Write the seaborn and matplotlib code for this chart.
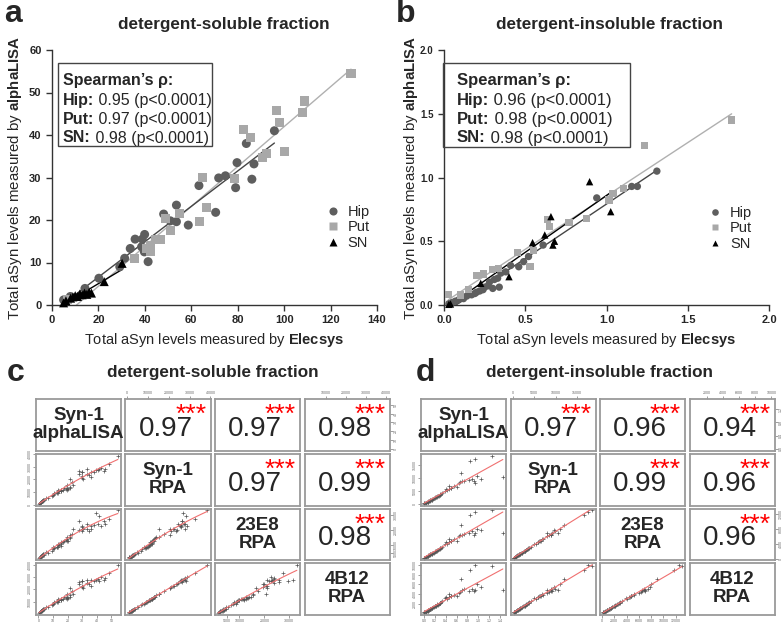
import numpy as np
import pandas as pd
import seaborn as sns
import matplotlib
matplotlib.use("Agg")
import matplotlib.pyplot as plt
from matplotlib.patches import Rectangle
from matplotlib.ticker import FormatStrFormatter

# ---------------- panel a: detergent-soluble, Elecsys vs alphaLISA ----------------
hip_elec_sol = [95.8, 83.7, 87.0, 86.1, 79.7, 79.1, 74.7, 71.8, 63.3, 70.5, 58.7, 53.6, 53.6, 51.0,
                48.1, 39.9, 38.9, 35.8, 38.6, 39.8, 41.4, 33.7, 31.3, 29.2, 20.2, 14.2, 7.9, 5.0]
hip_alpha_sol = [41.0, 38.0, 33.2, 29.6, 33.5, 27.6, 30.4, 29.9, 28.1, 21.8, 18.8, 23.5, 19.6, 19.8,
                 21.4, 16.6, 15.5, 15.5, 13.7, 12.5, 10.2, 13.3, 11.0, 9.0, 6.3, 3.9, 2.0, 1.2]
put_elec_sol = [128.8, 108.7, 107.8, 96.6, 98.1, 100.2, 92.6, 90.6, 82.3, 85.4, 78.8, 64.8,
                66.5, 63.6, 55.0, 51.0, 48.8, 46.9, 44.5, 42.6, 42.6, 40.9, 35.6, 6.6]
put_alpha_sol = [54.4, 48.0, 45.2, 45.8, 43.0, 36.1, 35.7, 34.7, 41.2, 39.5, 29.8, 30.0,
                 23.0, 19.7, 21.6, 17.6, 20.4, 15.5, 15.5, 14.1, 12.5, 13.3, 11.0, 1.4]
sn_elec_sol = [5.0, 6.0, 8.0, 9.0, 10.0, 11.0, 12.0, 13.0, 14.0, 15.0, 16.0, 17.0, 22.5, 30.2]
sn_alpha_sol = [0.5, 1.0, 1.6, 1.9, 2.2, 2.0, 2.6, 2.4, 2.8, 2.5, 3.0, 2.8, 5.5, 9.8]

# ---------------- panel b: detergent-insoluble ----------------
hip_elec_ins = [1.31, 1.19, 1.155, 0.94, 0.61, 0.52, 0.41, 0.46, 0.49, 0.38, 0.35, 0.34, 0.33, 0.31, 0.30,
                0.28, 0.27, 0.25, 0.24, 0.22, 0.20, 0.19, 0.17, 0.14, 0.12, 0.09, 0.07, 0.05, 0.03]
hip_alpha_ins = [1.05, 0.93, 0.93, 0.84, 0.47, 0.38, 0.31, 0.30, 0.34, 0.26, 0.25, 0.14, 0.21, 0.20, 0.13,
                 0.18, 0.15, 0.14, 0.12, 0.11, 0.10, 0.09, 0.08, 0.07, 0.05, 0.04, 0.03, 0.02, 0.01]
put_elec_ins = [1.77, 1.235, 1.106, 1.04, 1.015, 0.878, 0.769, 0.638, 0.65, 0.55,
                0.529, 0.451, 0.334, 0.30, 0.244, 0.20, 0.15, 0.103, 0.027]
put_alpha_ins = [1.45, 1.25, 0.915, 0.876, 0.824, 0.68, 0.646, 0.672, 0.614, 0.426,
                 0.30, 0.41, 0.288, 0.28, 0.243, 0.23, 0.12, 0.078, 0.084]
sn_elec_ins = [0.896, 1.026, 0.658, 0.62, 0.68, 0.67, 0.545, 0.40, 0.226, 0.04, 0.03]
sn_alpha_ins = [0.967, 0.732, 0.693, 0.549, 0.50, 0.47, 0.489, 0.222, 0.17, 0.008, 0.005]

# ---------------- panels c/d: RPA assays (same samples, order Hip, Put, SN) ----------------
syn1_sol = [27500, 26000, 28000, 21000, 24500, 26500, 20500, 25500, 24000, 13500, 12500, 15500, 13000, 12000,
            14000, 11500, 12000, 10500, 9500, 10000, 7500, 11000, 9000, 7000, 5500, 3500, 2200, 1500,
            38500, 32500, 26500, 28000, 29000, 22000, 26000, 23500, 28500, 27000, 26000, 22500,
            18000, 15500, 20500, 13000, 12500, 12000, 11000, 10500, 9000, 11500, 8500, 1300,
            900, 1300, 1800, 2300, 2600, 2000, 3200, 2700, 3500, 2900, 3800, 3100, 5000, 8000]
e23_sol = [24000, 23500, 21000, 19500, 24000, 26000, 21000, 22500, 20000, 14500, 13500, 20500, 14000, 12500,
           15500, 12000, 11500, 9500, 8500, 9000, 7500, 10000, 8000, 6500, 4800, 3600, 2300, 1700,
           33000, 27500, 26000, 24000, 22500, 21000, 23000, 19500, 29500, 31500, 22000, 20500,
           17500, 15500, 16500, 12500, 13000, 11000, 12000, 10000, 9000, 10500, 8000, 2200,
           1500, 1900, 2400, 2900, 3300, 2700, 3800, 3200, 4100, 3400, 4500, 3700, 5500, 8500]
b12_sol = [28500, 27000, 28000, 22000, 25500, 26000, 21500, 26500, 24500, 14000, 13000, 16500, 13500, 12500,
           15000, 12000, 12500, 11000, 10000, 10500, 8000, 11500, 9500, 7500, 5800, 3800, 2400, 1600,
           40000, 33000, 28000, 29500, 30000, 23000, 27500, 24500, 27000, 27500, 26500, 23000,
           18500, 16000, 21000, 13500, 13000, 12500, 11500, 11000, 9500, 12000, 9000, 1400,
           1000, 1400, 1900, 2400, 2700, 2100, 3300, 2800, 3600, 3000, 3900, 3200, 5200, 8300]

syn1_ins = [9500, 8000, 17500, 16500, 6800, 5000, 3800, 3600, 4200, 3000, 3200, 1800, 2600, 2500, 1700,
            2200, 1900, 1800, 1500, 1400, 1300, 1200, 1000, 900, 700, 600, 500, 400, 300,
            10500, 18500, 9000, 9800, 9200, 12000, 8000, 8500, 6500, 5500,
            3800, 6000, 3500, 3300, 2900, 2800, 1500, 900, 1100,
            11000, 9000, 8800, 7000, 6200, 5800, 6300, 2800, 2100, 300, 250]
e23_ins = [7800, 6900, 12500, 11800, 5200, 3900, 3000, 2800, 3300, 2300, 2500, 1400, 2000, 1900, 1300,
           1700, 1500, 1400, 1200, 1100, 1000, 900, 800, 700, 550, 450, 400, 300, 250,
           7000, 13000, 6500, 7500, 7000, 9000, 6000, 6300, 4800, 4100,
           2900, 4600, 2700, 2600, 2200, 2100, 1200, 700, 900,
           8000, 6800, 6500, 5200, 4700, 4400, 4800, 2100, 1600, 250, 200]
b12_ins = [5500, 4800, 10000, 9000, 4000, 3100, 2400, 2200, 2600, 1800, 1900, 1100, 1600, 1500, 1000,
           1400, 1200, 1100, 950, 900, 800, 700, 650, 550, 450, 380, 320, 250, 200,
           4800, 9800, 4600, 5000, 4700, 7000, 4300, 4500, 3500, 3000,
           2200, 3300, 2100, 2000, 1700, 1600, 950, 550, 700,
           6000, 5000, 4800, 3800, 3500, 3300, 3600, 1600, 1250, 200, 180]

assay_names = ["Syn-1\nalphaLISA", "Syn-1\nRPA", "23E8\nRPA", "4B12\nRPA"]
corr_sol = ["0.97", "0.97", "0.98", "0.97", "0.99", "0.98"]
corr_ins = ["0.97", "0.96", "0.94", "0.99", "0.96", "0.96"]

ticks_sol = {"alpha": [0, 10, 20, 30, 40, 50], "syn1": [0, 10000, 20000, 30000, 40000],
             "e23": [5000, 10000, 20000, 30000], "b12": [10000, 20000, 30000, 40000]}
ticks_ins = {"alpha": [0.0, 0.2, 0.4, 0.6, 0.8, 1.0, 1.2, 1.4], "syn1": [0, 5000, 10000, 15000],
             "e23": [0, 2000, 4000, 6000, 8000, 10000, 12000], "b12": [2000, 4000, 6000, 8000, 10000]}

sns.set_style("ticks")
plt.rcParams['font.family'] = ['Liberation Sans', 'DejaVu Sans']
plt.rcParams['mathtext.fontset'] = 'custom'
plt.rcParams['mathtext.rm'] = 'Liberation Sans'
plt.rcParams['mathtext.bf'] = 'Liberation Sans:bold'

W, H = 784, 622
fig = plt.figure(figsize=(W / 100, H / 100), dpi=100)


def add_ax(x0, y0, x1, y1):
    return fig.add_axes([x0 / W, 1 - y1 / H, (x1 - x0) / W, (y1 - y0) / H])


def fig_text(x, y, s, **kw):
    return fig.text(x / W, 1 - y / H, s, **kw)


markers = {'Hip': 'o', 'Put': 's', 'SN': '^'}
palette = {'Hip': '#5e5e5e', 'Put': '#a8a8a8', 'SN': '#000000'}
line_cols = {'Hip': '#454545', 'Put': '#b0b0b0', 'SN': '#000000'}


def long_df(h_x, h_y, p_x, p_y, s_x, s_y):
    return pd.DataFrame({
        'elecsys': h_x + p_x + s_x,
        'alpha': h_y + p_y + s_y,
        'region': ['Hip'] * len(h_x) + ['Put'] * len(p_x) + ['SN'] * len(s_x)})


def scatter_panel(ax, df, size, xlim, xticks, ylim, yticks, leg_anchor, ypad):
    for reg in ['Put', 'Hip', 'SN']:
        sub = df[df.region == reg]
        sns.regplot(data=sub, x='elecsys', y='alpha', scatter=False, ci=None, truncate=True,
                    line_kws={'color': line_cols[reg], 'lw': 1.0}, ax=ax)
    sns.scatterplot(data=df, x='elecsys', y='alpha', hue='region', style='region',
                    markers=markers, palette=palette, s=size, edgecolor='none',
                    clip_on=False, zorder=3, ax=ax)
    ax.set_xlim(xlim)
    ax.set_ylim(ylim)
    ax.set_xticks(xticks)
    ax.set_yticks(yticks)
    sns.despine(ax=ax)
    for sp in ax.spines.values():
        sp.set_color('#333333')
        sp.set_linewidth(1.0)
    ax.tick_params(labelsize=8, width=1.0, length=4, color='#333333')
    ax.set_xlabel(r"Total aSyn levels measured by $\mathbf{Elecsys}$", fontsize=10.5, labelpad=4)
    ax.set_ylabel(r"Total aSyn levels measured by $\mathbf{alphaLISA}$", fontsize=10.8, labelpad=ypad)
    sns.move_legend(ax, 'center left', bbox_to_anchor=leg_anchor, title=None, frameon=False,
                    fontsize=10.5, handletextpad=0.0, labelspacing=0.1, borderpad=0,
                    borderaxespad=0, markerscale=0.9)


def bold_ticks(ax):
    for lbl in ax.get_xticklabels() + ax.get_yticklabels():
        lbl.set_fontweight('bold')


def stat_box(ax, x0, y0, x1, y1, tx, lines, size=11.5):
    fig.add_artist(Rectangle((x0 / W, 1 - y1 / H), (x1 - x0) / W, (y1 - y0) / H,
                             transform=fig.transFigure, fill=False, ec='#444444', lw=1.0))
    ys = [y0 + 17, y0 + 37, y0 + 56.5, y0 + 75]
    fig_text(tx, ys[0], "Spearman’s ρ:", fontweight='bold', fontsize=size, va='center')
    for (bold, rest), yy in zip(lines, ys[1:]):
        t = fig_text(tx, yy, bold, fontweight='bold', fontsize=size, va='center')
        ax.annotate(rest, xy=(1, 0), xycoords=t, fontsize=size, va='bottom', ha='left',
                    annotation_clip=False)


# ---------------- panel a ----------------
ax_a = add_ax(52, 50, 377, 305)
df_a = long_df(hip_elec_sol, hip_alpha_sol, put_elec_sol, put_alpha_sol, sn_elec_sol, sn_alpha_sol)
scatter_panel(ax_a, df_a, 42, (0, 140), range(0, 141, 20), (0, 60), range(0, 61, 10), (0.82, 0.305), 4)
bold_ticks(ax_a)

# ---------------- panel b ----------------
ax_b = add_ax(444, 50, 769, 305)
df_b = long_df(hip_elec_ins, hip_alpha_ins, put_elec_ins, put_alpha_ins, sn_elec_ins, sn_alpha_ins)
scatter_panel(ax_b, df_b, 28, (0, 2.0), [0.0, 0.5, 1.0, 1.5, 2.0], (0, 2.0), [0.0, 0.5, 1.0, 1.5, 2.0],
              (0.79, 0.30), 0)
ax_b.xaxis.set_major_formatter(FormatStrFormatter('%.1f'))
ax_b.yaxis.set_major_formatter(FormatStrFormatter('%.1f'))
ax_b.tick_params(axis='y', labelsize=7)
bold_ticks(ax_b)

stat_box(ax_a, 58, 63, 212, 146, 63, [("Hip:", " 0.95 (p<0.0001)"), ("Put:", " 0.97 (p<0.0001)"),
                                      ("SN:", " 0.98 (p<0.0001)")])
stat_box(ax_b, 443, 63, 630, 147, 457, [("Hip:", " 0.96 (p<0.0001)"), ("Put:", " 0.98 (p<0.0001)"),
                                        ("SN:", " 0.98 (p<0.0001)")], size=12)

fig_text(4, 14, "a", fontsize=23, fontweight='bold', va='center')
fig_text(396, 14, "b", fontsize=23, fontweight='bold', va='center')
fig_text(224, 25, "detergent-soluble fraction", fontsize=12.3, fontweight='bold', ha='center', va='center')
fig_text(609, 25, "detergent-insoluble fraction", fontsize=12.3, fontweight='bold', ha='center', va='center')


# ---------------- panels c/d: pairs matrices ----------------
def pair_panel(df, corr, ticks, col_x, row_y, order, cw=85, rh=51.5):
    vars_ = list(df.columns)
    lims = {}
    for v in vars_:
        lo, hi = df[v].min(), df[v].max()
        pad = (hi - lo) * 0.04
        lims[v] = (lo - pad, hi + pad)
    k = 0
    for i in range(4):
        for j in range(4):
            ax = add_ax(col_x[j], row_y[i], col_x[j] + cw, row_y[i] + rh)
            vx, vy = vars_[j], vars_[i]
            if i > j:
                sns.scatterplot(x=df[vx], y=df[vy], marker='+', color='#555555', s=7,
                                linewidth=0.5, ax=ax)
                sns.regplot(x=df[vx], y=df[vy], order=order, scatter=False, ci=None, truncate=True,
                            line_kws={'color': '#f07070', 'lw': 0.8}, ax=ax)
            elif i == j:
                ax.text(0.5, 0.5, assay_names[i], transform=ax.transAxes, ha='center', va='center',
                        fontsize=13.5, fontweight='bold', linespacing=1.1)
            else:
                ax.text(0.47, 0.42, corr[k], transform=ax.transAxes, ha='center', va='center',
                        fontsize=20)
                ax.text(0.95, 0.92, "***", transform=ax.transAxes, ha='right', va='top',
                        fontsize=19, color='red')
                k += 1
            ax.set_xlim(lims[vx])
            ax.set_ylim(lims[vy])
            ax.set_xlabel('')
            ax.set_ylabel('')
            ax.tick_params(bottom=False, labelbottom=False, left=False, labelleft=False,
                           top=False, labeltop=False, right=False, labelright=False,
                           labelsize=2.6, length=2, width=0.5, color='#777777', labelcolor='#666666',
                           pad=1)
            if i == 0 and j in (1, 3):
                ax.set_xticks(ticks[vx])
                ax.tick_params(top=True, labeltop=True)
            elif i == 3 and j in (0, 2):
                ax.set_xticks(ticks[vx])
                ax.tick_params(bottom=True, labelbottom=True)
            else:
                ax.set_xticks([])
            yt = ticks[vy] if len(ticks[vy]) <= 6 else ticks[vy][::2]
            if j == 0 and i in (1, 3):
                ax.set_yticks(yt)
                ax.tick_params(axis='y', left=True, labelleft=True, labelrotation=90)
            elif j == 3 and i in (0, 2):
                ax.set_yticks(yt)
                ax.tick_params(axis='y', right=True, labelright=True, labelrotation=90)
            else:
                ax.set_yticks([])
            for lbl in ax.get_yticklabels():
                lbl.set_verticalalignment('center')
            for sp in ax.spines.values():
                sp.set_visible(True)
                sp.set_color('#9a9a9a')
                sp.set_linewidth(1.3)


df_c = pd.DataFrame({'alpha': hip_alpha_sol + put_alpha_sol + sn_alpha_sol,
                     'syn1': syn1_sol, 'e23': e23_sol, 'b12': b12_sol})
df_d = pd.DataFrame({'alpha': hip_alpha_ins + put_alpha_ins + sn_alpha_ins,
                     'syn1': syn1_ins, 'e23': e23_ins, 'b12': b12_ins})

rows = [399, 454, 508.5, 563]
pair_panel(df_c, corr_sol, ticks_sol, [36, 125.5, 215, 304.5], rows, order=2)
pair_panel(df_d, corr_ins, ticks_ins, [421, 510.5, 600, 689.5], rows, order=1)

fig_text(7, 373, "c", fontsize=23, fontweight='bold', va='center')
fig_text(416, 373, "d", fontsize=23, fontweight='bold', va='center')
fig_text(213, 373, "detergent-soluble fraction", fontsize=12.3, fontweight='bold', ha='center', va='center')
fig_text(600, 372, "detergent-insoluble fraction", fontsize=12.3, fontweight='bold', ha='center', va='center')

fig.savefig("out.png", dpi=100)
